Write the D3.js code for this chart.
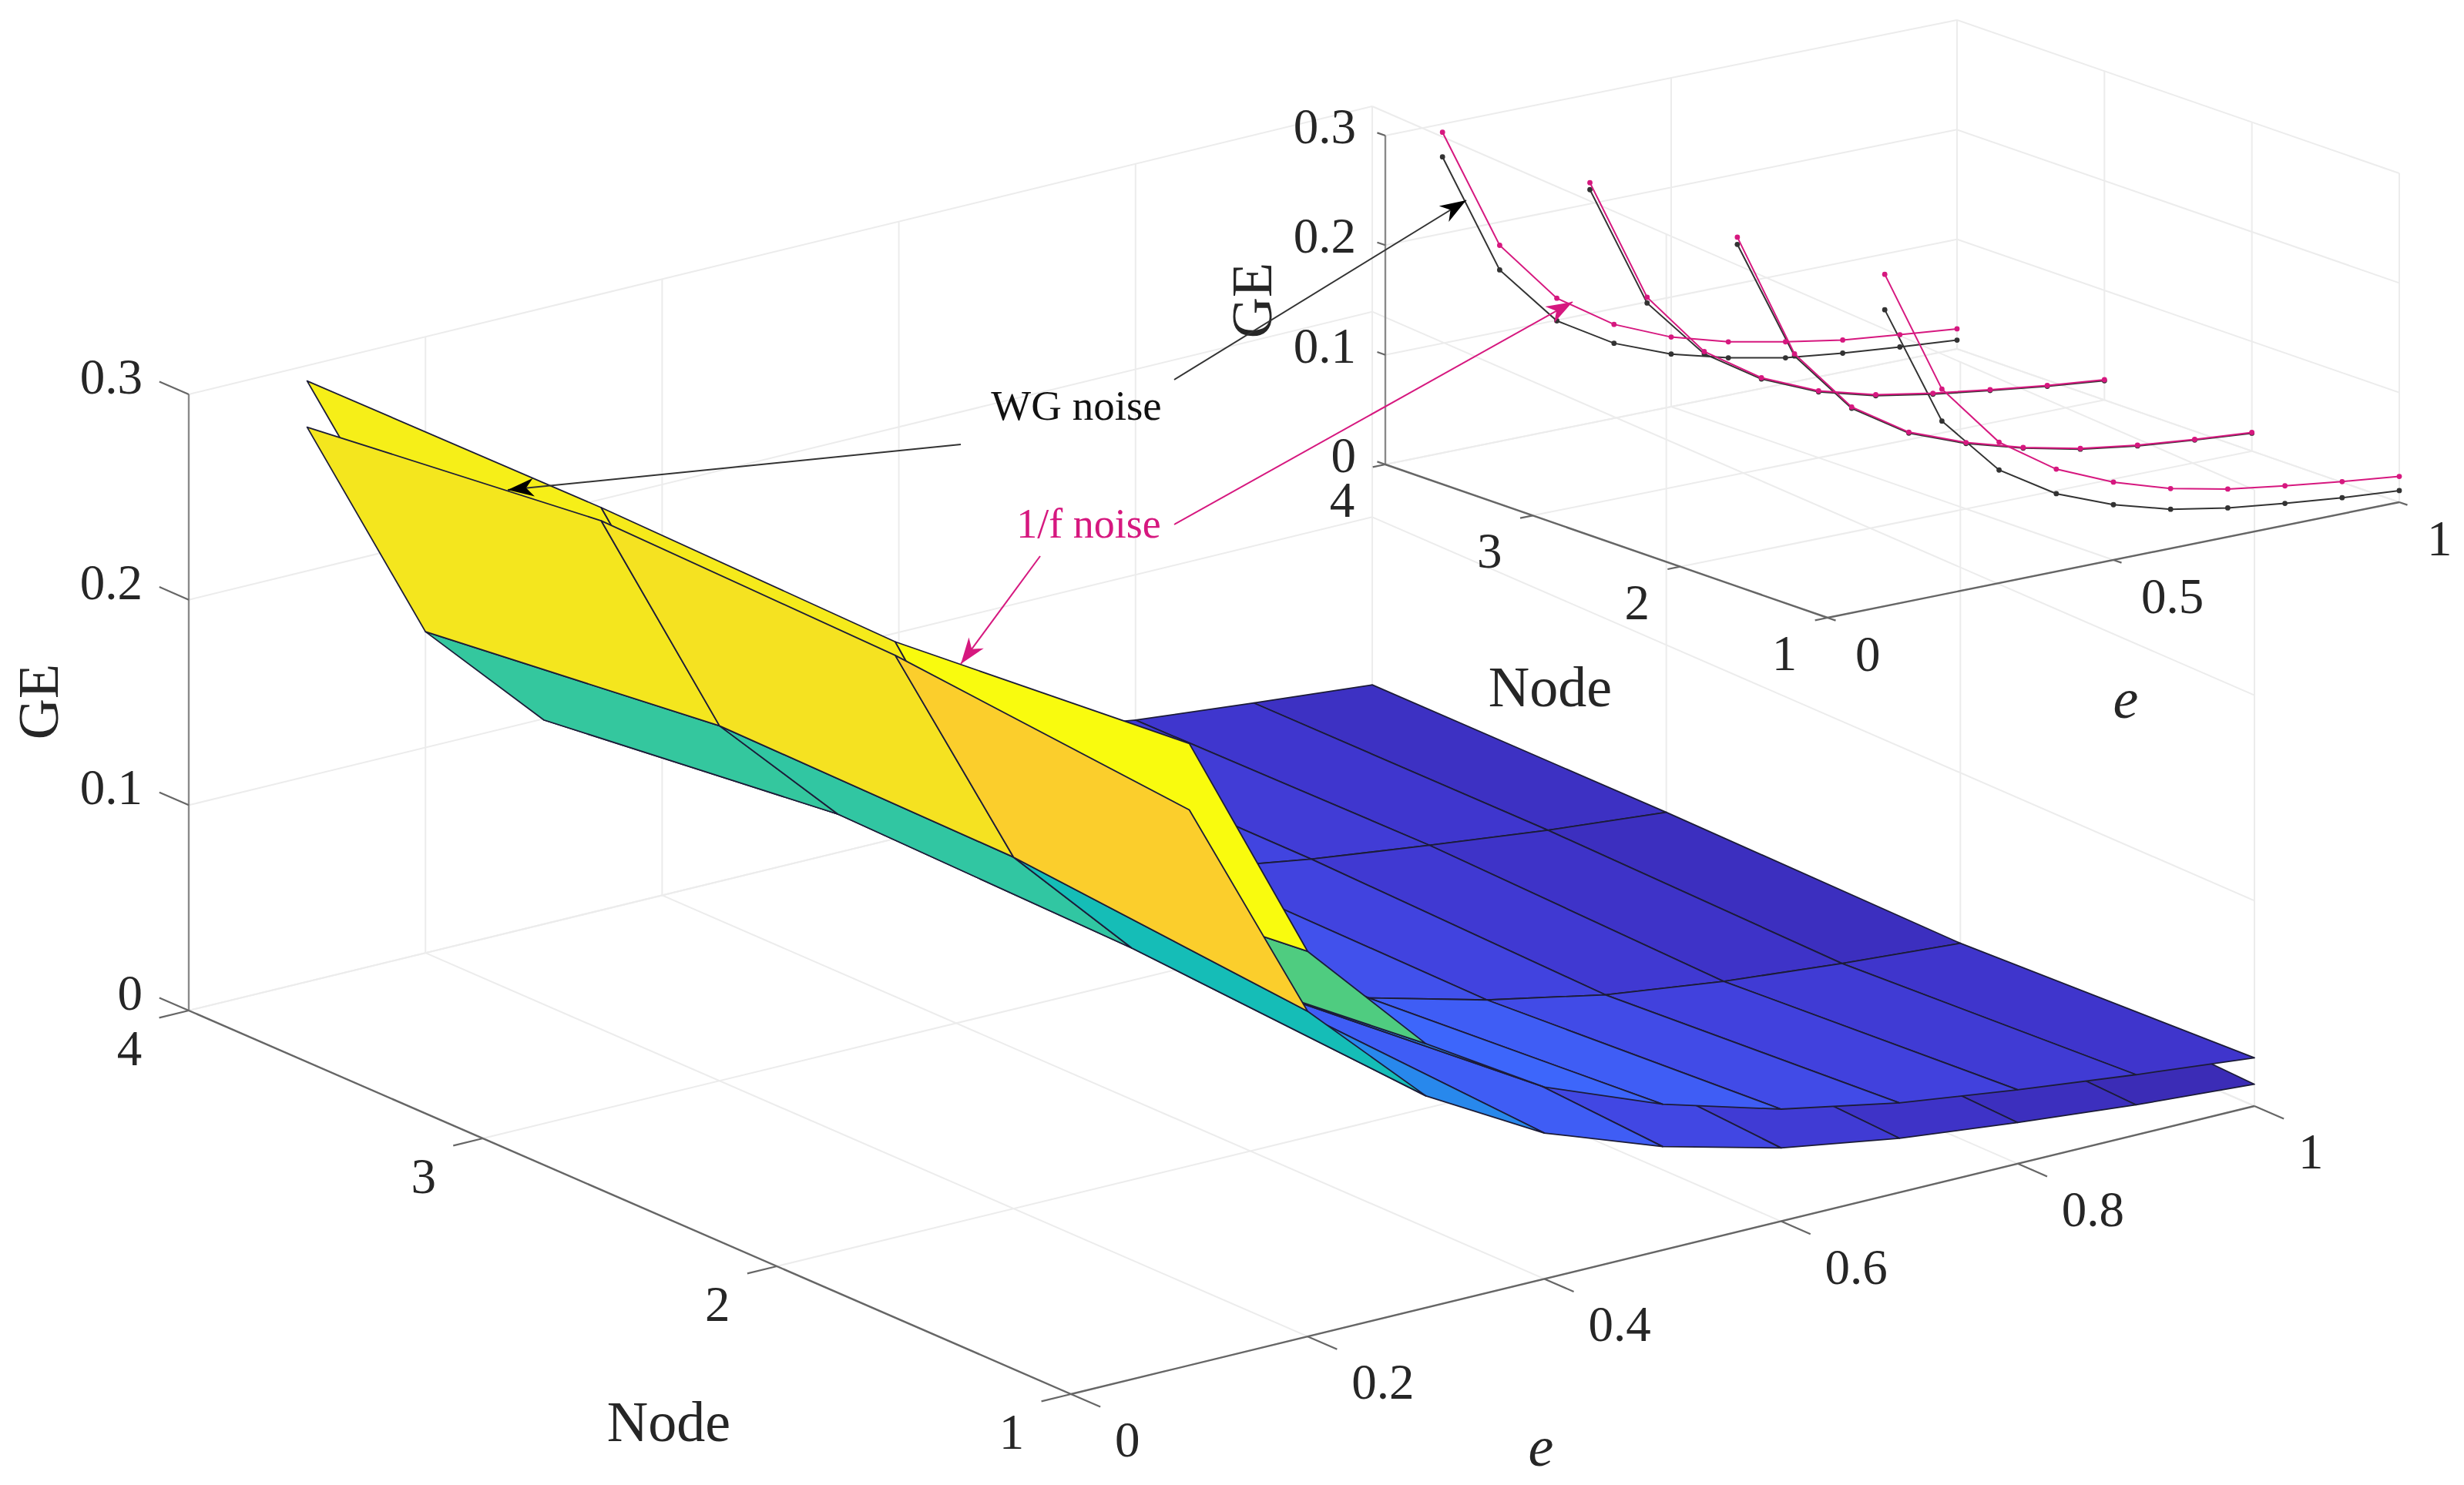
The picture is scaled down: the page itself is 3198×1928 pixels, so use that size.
<!DOCTYPE html>
<html>
<head>
<meta charset="utf-8">
<script src="https://cdn.jsdelivr.net/npm/d3@7"></script>
<style>
  html, body { margin: 0; background: white; }
  text { font-family: "Liberation Serif", serif; fill: #262626; }
</style>
</head>
<body>
<svg id="chart" width="3198" height="1928"></svg>
<script>
// GE along e, one list per node
const eValues = [0.1, 0.2, 0.3, 0.4, 0.5, 0.6, 0.7, 0.8, 0.9, 1.0];
const nodes = [1, 2, 3, 4];

const wgNode1 = [0.2704, 0.1583, 0.1031, 0.0710, 0.0504, 0.0357, 0.0264, 0.0200, 0.0146, 0.0106];
const wgNode2 = [0.2834, 0.1711, 0.1128, 0.0797, 0.0596, 0.0449, 0.0334, 0.0258, 0.0206, 0.0163];
const wgNode3 = [0.2867, 0.1728, 0.1158, 0.0824, 0.0601, 0.0460, 0.0369, 0.0297, 0.0230, 0.0176];
const wgNode4 = [0.2700, 0.1564, 0.0994, 0.0684, 0.0480, 0.0340, 0.0235, 0.0172, 0.0123, 0.0080];

const pinkNode1 = [0.3027, 0.1875, 0.1285, 0.0934, 0.0710, 0.0546, 0.0436, 0.0360, 0.0293, 0.0235];
const pinkNode2 = [0.2900, 0.1730, 0.1140, 0.0805, 0.0605, 0.0455, 0.0340, 0.0265, 0.0212, 0.0170];
const pinkNode3 = [0.2931, 0.1780, 0.1179, 0.0835, 0.0610, 0.0470, 0.0378, 0.0305, 0.0238, 0.0185];
const pinkNode4 = [0.2925, 0.1788, 0.1200, 0.0856, 0.0635, 0.0486, 0.0381, 0.0292, 0.0235, 0.0183];

const wgSurface = [wgNode1, wgNode2, wgNode3, wgNode4];
const pinkSurface = [pinkNode1, pinkNode2, pinkNode3, pinkNode4];

const mainETicks = [0, 0.2, 0.4, 0.6, 0.8, 1];
const insetETicks = [0, 0.5, 1];
const nodeTicks = [1, 2, 3, 4];
const zTicks = [0, 0.1, 0.2, 0.3];

const colorStops = [0.012, 0.021, 0.03, 0.04, 0.047, 0.06, 0.07, 0.094, 0.103, 0.13, 0.158, 0.172, 0.1875, 0.27, 0.285, 0.3027];
const colorRange = ["#3a2bb2", "#3c2fbf", "#3f36cd", "#413ed9", "#4144e0", "#4150ec", "#3f5df5", "#3d66fb", "#2888ec", "#2888f0",
  "#14bdb8", "#33c7a0", "#4fcc80", "#fbcd2c", "#f4e420", "#f9fb0e"];
const faceColor = d3.scaleLinear().domain(colorStops).range(colorRange).clamp(true);

const PINK = "#d6187f";
const GRID = "#ececec";
const AXIS = "#666";

const svg = d3.select("#chart");
svg.append("rect").attr("width", 3198).attr("height", 1928).attr("fill", "white");

// orthographic view built from one scale per data axis and per screen direction
function makeView(o, eEnd, nEnd, zHeight) {
  const ex = d3.scaleLinear([0, 1], [0, eEnd[0] - o[0]]);
  const ey = d3.scaleLinear([0, 1], [0, eEnd[1] - o[1]]);
  const nx = d3.scaleLinear([1, 4], [0, nEnd[0] - o[0]]);
  const ny = d3.scaleLinear([1, 4], [0, nEnd[1] - o[1]]);
  const zy = d3.scaleLinear([0, 0.3], [0, -zHeight]);
  return (e, n, z) => [o[0] + ex(e) + nx(n), o[1] + ey(e) + ny(n) + zy(z)];
}

const mainView = makeView([1390, 1810], [2926, 1436], [245, 1312], 800);
const insetView = makeView([2372, 802], [3114, 652], [1798, 603], 427);

const line = d3.line();

function drawAxes(g, view, eTicks, opts) {
  const seg = (a, b, color, w) => g.append("path").attr("d", line([a, b]))
    .attr("fill", "none").attr("stroke", color).attr("stroke-width", w);

  // grid on floor and the two back walls
  eTicks.forEach(e => {
    seg(view(e, 1, 0), view(e, 4, 0), GRID, 2);
    seg(view(e, 4, 0), view(e, 4, 0.3), GRID, 2);
  });
  nodeTicks.forEach(n => {
    seg(view(0, n, 0), view(1, n, 0), GRID, 2);
    seg(view(1, n, 0), view(1, n, 0.3), GRID, 2);
  });
  zTicks.forEach(z => {
    seg(view(0, 4, z), view(1, 4, z), GRID, 2);
    seg(view(1, 4, z), view(1, 1, z), GRID, 2);
  });

  // axis lines and outward ticks
  seg(view(0, 4, 0), view(0, 4, 0.3), opts.zColor, 2.4);
  seg(view(0, 1, 0), view(0, 4, 0), AXIS, 2.4);
  seg(view(0, 1, 0), view(1, 1, 0), AXIS, 2.4);

  zTicks.forEach(z => {
    seg(view(0, 4, z), view(0, 4 + opts.tickN, z), AXIS, 2.2);
    g.append("text").attr("x", view(0, 4, z)[0] + opts.zLabel[0]).attr("y", view(0, 4, z)[1] + opts.zLabel[1])
      .attr("text-anchor", "end").attr("dominant-baseline", "central")
      .attr("font-size", 65).text(z);
  });
  nodeTicks.forEach(n => {
    seg(view(0, n, 0), view(-opts.tickE, n, 0), AXIS, 2.2);
    g.append("text").attr("x", view(0, n, 0)[0] + opts.nLabel[0]).attr("y", view(0, n, 0)[1] + opts.nLabel[1])
      .attr("text-anchor", "middle").attr("dominant-baseline", "central")
      .attr("font-size", 65).text(n);
  });
  eTicks.forEach(e => {
    seg(view(e, 1, 0), view(e, 1 - opts.tickN, 0), AXIS, 2.2);
    g.append("text").attr("x", view(e, 1, 0)[0] + opts.eLabel[0]).attr("y", view(e, 1, 0)[1] + opts.eLabel[1])
      .attr("text-anchor", "start").attr("dominant-baseline", "central")
      .attr("font-size", 65).text(e);
  });

  g.append("text").attr("x", opts.nodeTitle[0]).attr("y", opts.nodeTitle[1]).attr("text-anchor", "middle")
    .attr("dominant-baseline", "central").attr("font-size", 74).text("Node");
  g.append("text").attr("x", opts.eTitle[0]).attr("y", opts.eTitle[1]).attr("text-anchor", "middle")
    .attr("dominant-baseline", "central").attr("font-size", 74).attr("font-style", "italic").text("e");
  g.append("text").attr("transform", `translate(${opts.geTitle[0]},${opts.geTitle[1]}) rotate(-90)`)
    .attr("text-anchor", "middle").attr("dominant-baseline", "central").attr("font-size", 74).text("GE");
}

const mainG = svg.append("g");
drawAxes(mainG, mainView, mainETicks, {
  zColor: "#8a8a8a", tickN: 0.1, tickE: 0.025,
  zLabel: [-60, -23], nLabel: [-77, 49], eLabel: [57, 59],
  nodeTitle: [868, 1846], eTitle: [2000, 1878], geTitle: [50, 911]
});

// flat shaded quad; the colour comes from the lowest index corner as in surf
function quad(surface, i, j) {
  const z = surface[j];
  const z2 = surface[j + 1];
  const pts = [
    mainView(eValues[i], nodes[j], z[i]),
    mainView(eValues[i + 1], nodes[j], z[i + 1]),
    mainView(eValues[i + 1], nodes[j + 1], z2[i + 1]),
    mainView(eValues[i], nodes[j + 1], z2[i])
  ];
  mainG.append("path").attr("d", line(pts) + "Z")
    .attr("fill", faceColor(z[i]))
    .attr("stroke", "#1c1c38").attr("stroke-width", 1.8).attr("stroke-linejoin", "round");
}

function band(surface, i) {
  for (let j = nodes.length - 2; j >= 0; j--) quad(surface, i, j);
}

// the steep bands are seen from underneath, so the WG surface covers the other one there
for (let i = eValues.length - 2; i >= 2; i--) band(wgSurface, i);
for (let i = eValues.length - 2; i >= 2; i--) band(pinkSurface, i);
band(pinkSurface, 1);
band(wgSurface, 1);
band(pinkSurface, 0);
band(wgSurface, 0);

// inset with the same values as line series
const insetG = svg.append("g");
drawAxes(insetG, insetView, insetETicks, {
  zColor: "#8a8a8a", tickN: 0.055, tickE: 0.022,
  zLabel: [-38, -12], nLabel: [-56, 46], eLabel: [36, 47],
  nodeTitle: [2012, 892], eTitle: [2759, 907], geTitle: [1625, 390]
});

function curves(surface, color) {
  surface.forEach((zs, j) => {
    const pts = zs.map((z, i) => insetView(eValues[i], nodes[j], z));
    insetG.append("path").attr("d", line(pts)).attr("fill", "none")
      .attr("stroke", color).attr("stroke-width", 2);
    insetG.selectAll(null).data(pts).enter().append("circle")
      .attr("cx", d => d[0]).attr("cy", d => d[1]).attr("r", 3.4).attr("fill", color);
  });
}
curves(wgSurface, "#333");
curves(pinkSurface, PINK);

// callouts
const labels = [
  { text: "WG noise", x: 1397, y: 526, size: 55, color: "#111" },
  { text: "1/f noise", x: 1413, y: 680, size: 54, color: PINK }
];
const arrows = [
  { from: [1247, 577], to: [659, 636], color: "#333", head: "#000" },
  { from: [1524, 493], to: [1903, 260], color: "#333", head: "#000" },
  { from: [1524, 681], to: [2041, 392], color: PINK, head: PINK },
  { from: [1350, 722], to: [1247, 862], color: PINK, head: PINK }
];

const annot = svg.append("g");
arrows.forEach(a => {
  annot.append("path").attr("d", line([a.from, a.to])).attr("fill", "none")
    .attr("stroke", a.color).attr("stroke-width", 2);
  const ang = Math.atan2(a.to[1] - a.from[1], a.to[0] - a.from[0]);
  const at = (back, side) => [
    a.to[0] - back * Math.cos(ang) - side * Math.sin(ang),
    a.to[1] - back * Math.sin(ang) + side * Math.cos(ang)
  ];
  annot.append("path").attr("d", line([a.to, at(34, 12), at(24, 0), at(34, -12)]) + "Z").attr("fill", a.head);
});
annot.selectAll("text").data(labels).enter().append("text")
  .attr("x", d => d.x).attr("y", d => d.y).attr("text-anchor", "middle").attr("dominant-baseline", "central")
  .attr("font-size", d => d.size).style("fill", d => d.color).text(d => d.text);
</script>
</body>
</html>
